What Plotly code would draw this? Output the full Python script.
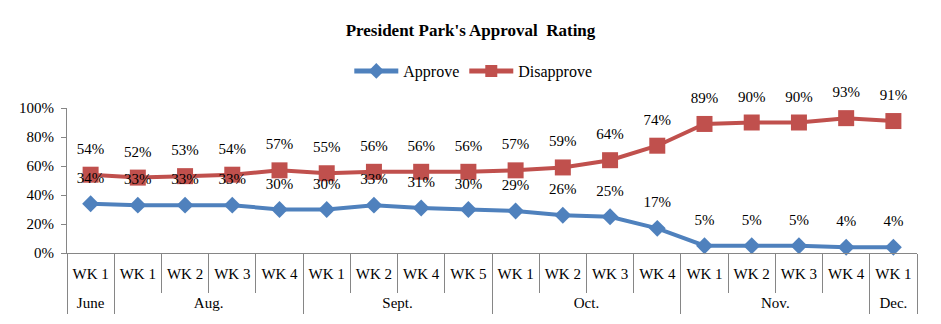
import plotly.graph_objects as go

months = ["June", "Aug.", "Aug.", "Aug.", "Aug.", "Sept.", "Sept.", "Sept.", "Sept.",
          "Oct.", "Oct.", "Oct.", "Oct.", "Nov.", "Nov.", "Nov.", "Nov.", "Dec."]
weeks = ["WK 1", "WK 1", "WK 2", "WK 3", "WK 4", "WK 1", "WK 2", "WK 4", "WK 5",
         "WK 1", "WK 2", "WK 3", "WK 4", "WK 1", "WK 2", "WK 3", "WK 4", "WK 1"]
approve = [34, 33, 33, 33, 30, 30, 33, 31, 30, 29, 26, 25, 17, 5, 5, 5, 4, 4]
disapprove = [54, 52, 53, 54, 57, 55, 56, 56, 56, 57, 59, 64, 74, 89, 90, 90, 93, 91]

FONT = "Liberation Serif, Times New Roman, serif"
BLUE = "#4F81BD"
RED = "#C0504D"
AXC = "#868686"

n = len(weeks)
xs = list(range(n))

# month groups derived from the category list
groups = []
for i, m in enumerate(months):
    if not groups or groups[-1][0] != m:
        groups.append([m, i, i])
    else:
        groups[-1][2] = i
group_centers = [(a + b) / 2 for _, a, b in groups]
group_names = [g[0] for g in groups]
group_bounds = [a - 0.5 for _, a, b in groups] + [n - 0.5]
week_bounds = [i - 0.5 for i in range(n + 1)]

fig = go.Figure()
for name, vals, color, sym, size in [("Approve", approve, BLUE, "diamond", 13),
                                     ("Disapprove", disapprove, RED, "square", 16)]:
    fig.add_trace(go.Scatter(
        x=xs, y=[v / 100 for v in vals], name=name, mode="lines+markers",
        line=dict(color=color, width=4),
        marker=dict(symbol=sym, size=size, color=color),
        cliponaxis=False,
    ))
for vals in [approve, disapprove]:
    # data labels (transparent carrier markers set the label offset)
    fig.add_trace(go.Scatter(
        x=xs, y=[v / 100 for v in vals], mode="markers+text",
        text=[f"{v}%" for v in vals], textposition="top center",
        textfont=dict(family=FONT, size=15, color="black"),
        marker=dict(size=26, opacity=0), showlegend=False, hoverinfo="skip",
        cliponaxis=False,
    ))
# carrier trace so the month axis is drawn
fig.add_trace(go.Scatter(
    x=group_centers, y=[0] * len(group_centers), xaxis="x2", yaxis="y",
    mode="markers", marker=dict(opacity=0, size=1), showlegend=False,
    hoverinfo="skip",
))

xr = [-0.5, n - 0.5]
fig.update_layout(
    width=941, height=324,
    margin=dict(l=67, r=24, t=108, b=71),
    paper_bgcolor="white", plot_bgcolor="white",
    font=dict(family=FONT, size=15, color="black"),
    title=dict(text="<b>President Park's Approval  Rating</b>", x=0.5, xanchor="center",
               y=1 - 30 / 324, yanchor="middle", font=dict(family=FONT, size=17)),
    legend=dict(orientation="h", x=0.478, xanchor="center", y=1 + 37 / 145, yanchor="middle",
                font=dict(family=FONT, size=16), itemsizing="constant",
                itemwidth=44, tracegroupgap=0),
    showlegend=True,
    xaxis=dict(
        range=xr, automargin=False, tickangle=0, tickvals=xs, ticktext=weeks,
        showline=True, linecolor=AXC, linewidth=1, showgrid=False, zeroline=False,
        ticks="", ticklabelstandoff=7, tickfont=dict(family=FONT, size=15),
        minor=dict(tickvals=week_bounds, ticks="outside", ticklen=39,
                   tickcolor=AXC, tickwidth=1, showgrid=False),
    ),
    xaxis2=dict(
        overlaying="x", anchor="y", side="bottom", range=xr, automargin=False,
        tickangle=0, tickvals=group_centers, ticktext=group_names,
        showline=False, showgrid=False, zeroline=False, ticks="",
        ticklabelstandoff=39, tickfont=dict(family=FONT, size=15),
        minor=dict(tickvals=group_bounds, ticks="outside", ticklen=60,
                   tickcolor=AXC, tickwidth=1, showgrid=False),
    ),
    yaxis=dict(
        range=[0, 1], tickvals=[0, 0.2, 0.4, 0.6, 0.8, 1.0], tickformat=".0%",
        showgrid=False, showline=True, linecolor=AXC, linewidth=1,
        ticks="outside", ticklen=5, tickcolor=AXC, zeroline=False,
        ticklabelstandoff=4, tickfont=dict(family=FONT, size=15),
    ),
)
fig.write_html("out.html")
